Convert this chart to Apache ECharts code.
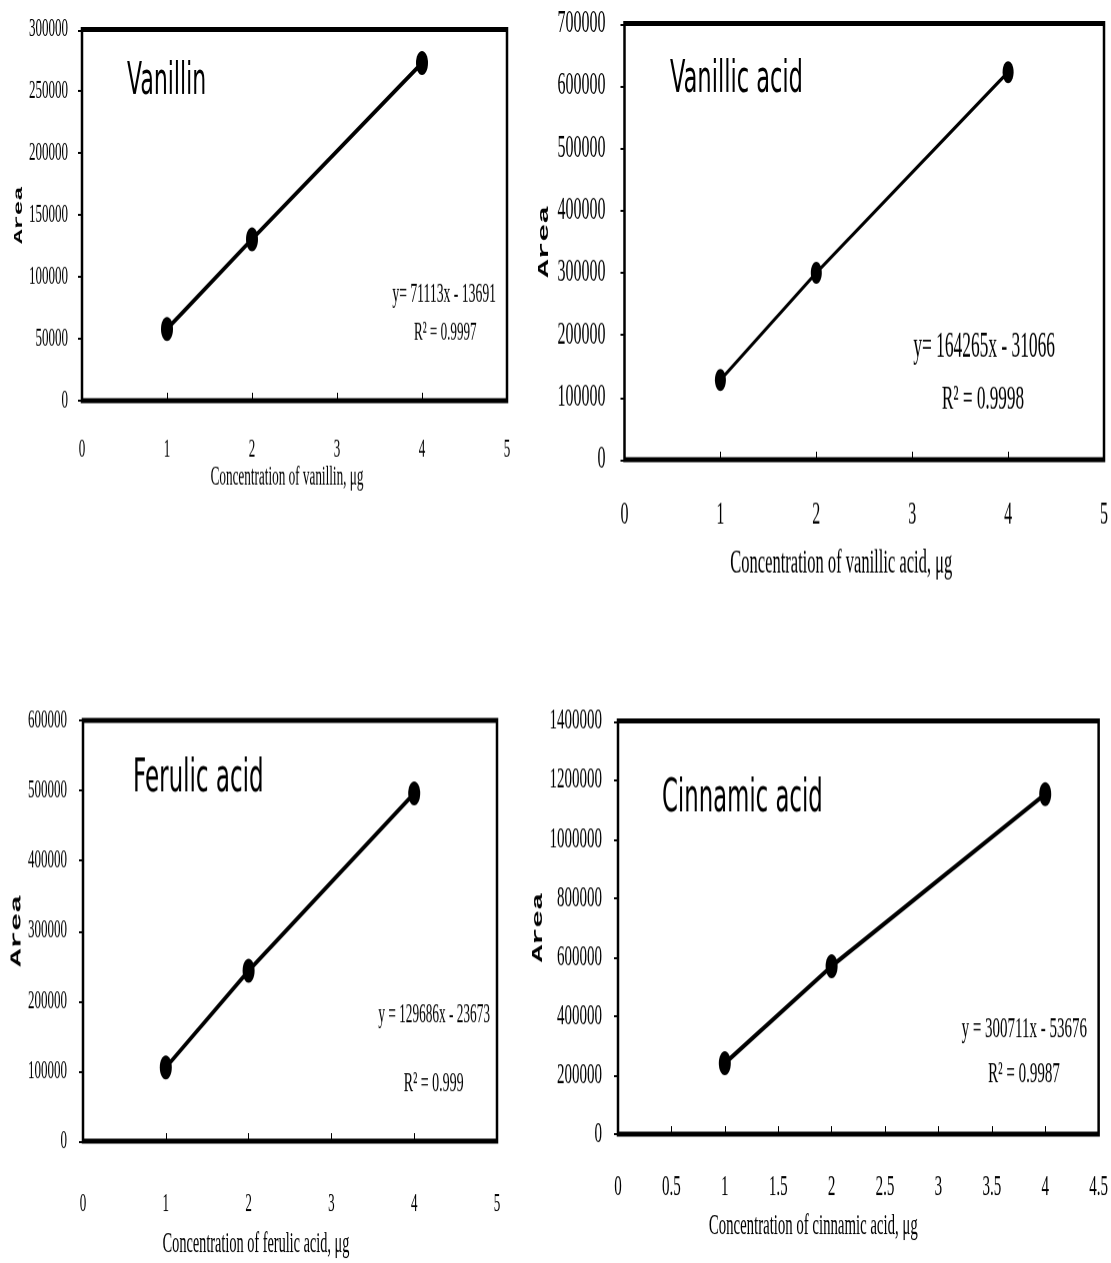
<!DOCTYPE html>
<html>
<head>
<meta charset="utf-8">
<title>Calibration curves</title>
<script src="https://cdn.jsdelivr.net/npm/echarts@6/dist/echarts.min.js"></script>
<style>
  html { margin: 0; padding: 0; background: #ffffff; overflow: hidden; }
  body { margin: 0; padding: 0; background: #ffffff; width: 1111px; height: 1263px; }
  /* the figure is laid out at half height and stretched vertically */
  #chart { width: 1111px; height: 632px; transform: scaleY(1.99842); transform-origin: 0 0; }
</style>
</head>
<body>
<div id="chart"></div>
<script>
// ---- data ----
const concentrations = [1, 2, 4];
const vanillinArea = [58000, 130500, 273000];
const vanillicArea = [128000, 300000, 622000];
const ferulicArea = [105000, 243000, 496000];
const cinnamicArea = [240000, 569000, 1152000];

const compoundNames = ['Vanillin', 'Vanillic acid', 'Ferulic acid', 'Cinnamic acid'];
const xAxisTitles = [
  'Concentration of vanillin, \u03bcg',
  'Concentration of vanillic acid, \u03bcg',
  'Concentration of ferulic acid, \u03bcg',
  'Concentration of cinnamic acid, \u03bcg'
];
const equations = ['y= 71113x - 13691', 'y= 164265x - 31066', 'y = 129686x - 23673', 'y = 300711x - 53676'];
const rSquared = ['R\u00b2 = 0.9997', 'R\u00b2 = 0.9998', 'R\u00b2 = 0.999', 'R\u00b2 = 0.9987'];

const yMax = [300000, 700000, 600000, 1400000];
const yStep = [50000, 100000, 100000, 200000];
const xMax = [5, 5, 5, 4.5];
const xStep = [1, 1, 1, 0.5];

const areaSeries = [vanillinArea, vanillicArea, ferulicArea, cinnamicArea];

// ---- layout of the four panels (pre-stretch coordinates) ----
const panels = [
  { grid: { left: 82, top: 14.75, width: 425, height: 185.75 }, tick: 13, xMargin: 18, yMargin: 14,
    xName: 13.2, xGap: 30, xShift: 15, yName: 12, yGap: 56, symbol: 12, line: 2.5,
    title: { x: 127, y: 41.4, size: 22 },
    eq: { x: 496, y: 147.2, size: 13.7 }, r2: { x: 445.3, y: 166.4, size: 13.1 } },
  { grid: { left: 624.5, top: 11.75, width: 481.5, height: 218.25 }, tick: 16, xMargin: 20, yMargin: 19,
    xName: 16.5, xGap: 43.5, xShift: 46, yName: 15, yGap: 73, symbol: 11, line: 2,
    title: { x: 670, y: 40, size: 22.5 },
    eq: { x: 1055, y: 173.9, size: 17.4 }, r2: { x: 983, y: 199.8, size: 17.2 } },
  { grid: { left: 83, top: 360.5, width: 414, height: 210.5 }, tick: 13, xMargin: 25, yMargin: 16,
    xName: 14.3, xGap: 44.7, xShift: 68, yName: 15, yGap: 55.5, symbol: 12, line: 2.5,
    title: { x: 133, y: 389.9, size: 23 },
    eq: { x: 490, y: 508, size: 13.3 }, r2: { x: 433.7, y: 542.3, size: 14 } },
  { grid: { left: 618, top: 360.75, width: 482, height: 206.75 }, tick: 15, xMargin: 19, yMargin: 16,
    xName: 14.8, xGap: 38.8, xShift: 90, yName: 14.5, yGap: 62.5, symbol: 12, line: 2.5,
    title: { x: 662, y: 399.9, size: 22.8 },
    eq: { x: 1087, y: 514.9, size: 15 }, r2: { x: 1024, y: 537.4, size: 15 } }
];

const serif = '"Liberation Serif", "Times New Roman", serif';
const sans = '"DejaVu Sans", Verdana, sans-serif';

const grids = [], xAxes = [], yAxes = [], series = [], graphics = [];

panels.forEach((p, i) => {
  grids.push(Object.assign({ show: true, borderColor: '#000', borderWidth: 2.5, backgroundColor: 'transparent' }, p.grid));

  xAxes.push({
    type: 'value', gridIndex: i, min: 0, max: xMax[i], interval: xStep[i],
    axisLine: { show: false },
    axisTick: { show: true, inside: true, length: 4, lineStyle: { color: '#000', width: 1 } },
    splitLine: { show: false },
    axisLabel: { color: '#000', fontFamily: serif, fontSize: p.tick, margin: p.xMargin,
      showMinLabel: true, showMaxLabel: true },
    name: xAxisTitles[i], nameLocation: 'middle', nameGap: p.xGap,
    nameTextStyle: { color: '#000', fontFamily: serif, fontSize: p.xName, padding: [0, p.xShift, 0, 0] }
  });

  yAxes.push({
    type: 'value', gridIndex: i, min: 0, max: yMax[i], interval: yStep[i],
    axisLine: { show: false },
    axisTick: { show: true, inside: false, length: 4, lineStyle: { color: '#000', width: 1 } },
    splitLine: { show: false },
    axisLabel: { color: '#000', fontFamily: serif, fontSize: p.tick, margin: p.yMargin,
      showMinLabel: true, showMaxLabel: true, formatter: v => String(v) },
    name: 'Area', nameLocation: 'middle', nameRotate: 90, nameGap: p.yGap,
    nameTextStyle: { color: '#000', fontFamily: '"Liberation Mono", "DejaVu Sans Mono", monospace',
      fontSize: p.yName, fontWeight: 'bold' }
  });

  series.push({
    type: 'line', xAxisIndex: i, yAxisIndex: i,
    data: concentrations.map((c, k) => [c, areaSeries[i][k]]),
    symbol: 'circle', symbolSize: p.symbol, showSymbol: true,
    lineStyle: { color: '#000', width: p.line },
    itemStyle: { color: '#000' },
    animation: false, silent: true
  });

  graphics.push({
    type: 'text', x: p.title.x, y: p.title.y,
    style: { text: compoundNames[i], fill: '#000', font: p.title.size + 'px ' + sans,
      textAlign: 'left', textVerticalAlign: 'middle' }
  });
  graphics.push({
    type: 'text', x: p.eq.x, y: p.eq.y,
    style: { text: equations[i], fill: '#000', font: p.eq.size + 'px ' + serif,
      textAlign: 'right', textVerticalAlign: 'middle' }
  });
  graphics.push({
    type: 'text', x: p.r2.x, y: p.r2.y,
    style: { text: rSquared[i], fill: '#000', font: p.r2.size + 'px ' + serif,
      textAlign: 'center', textVerticalAlign: 'middle' }
  });
});

const chart = echarts.init(document.getElementById('chart'), null, { renderer: 'canvas', devicePixelRatio: 2 });
chart.setOption({
  backgroundColor: '#ffffff',
  animation: false,
  grid: grids,
  xAxis: xAxes,
  yAxis: yAxes,
  series: series,
  graphic: graphics
});
</script>
</body>
</html>
